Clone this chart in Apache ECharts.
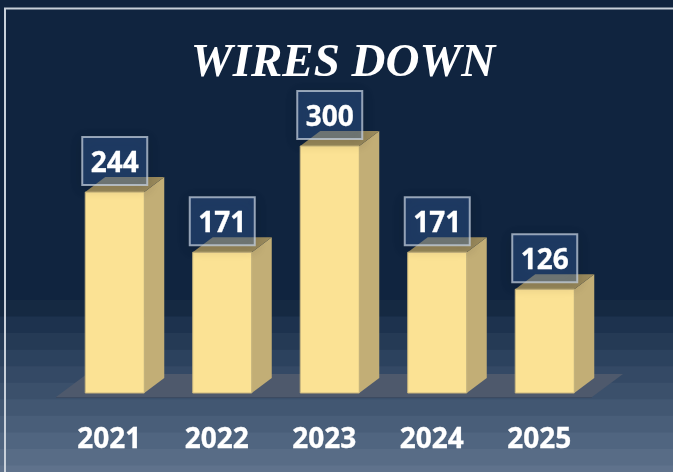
<!DOCTYPE html>
<html>
<head>
<meta charset="utf-8">
<style>html,body{margin:0;padding:0;background:#10243f}#chart{width:673px;height:472px}</style>
<script src="https://cdn.jsdelivr.net/npm/echarts@6/dist/echarts.min.js"></script>
</head>
<body>
<div id="chart"></div>
<script>
var years = ['2021', '2022', '2023', '2024', '2025'];
var wiresDown = [244, 171, 300, 171, 126];

// background stripes, top to bottom
var bandColors = ['#152942', '#1d324e', '#253a55', '#2c425e', '#344965', '#3b506b', '#425772', '#495e79', '#506580', '#586c86', '#5f728c'];
var bandStart = 300, bandHeight = 16.55;

var depthX = 20, depthY = 15;

var bg = [{ type: 'rect', z: 0, shape: { x: 0, y: 0, width: 673, height: 472 }, style: { fill: '#10243f' } }];
bandColors.forEach(function (c, i) {
  bg.push({ type: 'rect', z: 0, shape: { x: 0, y: bandStart + i * bandHeight, width: 673, height: bandHeight + 1 }, style: { fill: c } });
});
// frame, runs off the right and bottom edge
bg.push({ type: 'rect', z: 1, shape: { x: 5, y: 8.5, width: 760, height: 560 }, style: { fill: 'none', stroke: '#c8d0da', lineWidth: 2 } });
// floor
bg.push({ type: 'polygon', z: 1, shape: { points: [[56, 397], [87, 374], [623, 374], [592, 397]] }, style: { fill: '#4e596c' } });
bg.push({ type: 'line', z: 1, shape: { x1: 56, y1: 397.5, x2: 592, y2: 397.5 }, style: { stroke: '#3c4a60', lineWidth: 1 } });

function renderBar(params, api) {
  var base = api.coord([api.value(0), 0]);
  var top = api.coord([api.value(0), api.value(1)]);
  var w = api.size([1, 0])[0] * 0.549;
  var l = base[0] - w / 2, r = base[0] + w / 2, y0 = base[1], y1 = top[1];
  var boxW = 65, boxH = 48, boxTop = y1 - 55;
  return {
    type: 'group',
    children: [
      { type: 'polygon', shape: { points: [[r, y0], [r + depthX, y0 - depthY], [r + depthX, y1 - depthY], [r, y1]] }, style: { fill: '#c2ae76' } },
      { type: 'polygon', shape: { points: [[l, y1], [l + depthX, y1 - depthY], [r + depthX, y1 - depthY], [r, y1]] }, style: { fill: '#9a8a5c' } },
      { type: 'rect', shape: { x: l, y: y1, width: w, height: y0 - y1 }, style: { fill: '#fbe294', stroke: '#c9b67e', lineWidth: 1 } },
      { type: 'rect', shape: { x: base[0] - boxW / 2, y: boxTop, width: boxW, height: boxH },
        style: { fill: 'rgba(60,105,175,0.36)', stroke: 'rgba(200,210,225,0.72)', lineWidth: 2, shadowBlur: 12, shadowColor: 'rgba(0,0,0,0.3)', shadowOffsetY: 3 } },
      { type: 'text', style: { text: String(api.value(1)), x: base[0], y: boxTop + boxH / 2 + 3, align: 'center', verticalAlign: 'middle', fill: '#fff', stroke: '#fff', lineWidth: 0.3, font: 'bold 28px "Open Sans"' } }
    ]
  };
}

var option = {
  animation: false,
  title: {
    text: 'WIRES DOWN',
    left: 338,
    top: 35,
    textAlign: 'center',
    textStyle: { color: '#fff', fontFamily: 'Liberation Serif', fontStyle: 'italic', fontWeight: 'bold', fontSize: 47 }
  },
  graphic: bg,
  grid: { left: 61, top: 146, width: 537.5, height: 247 },
  xAxis: {
    type: 'category',
    data: years,
    axisLine: { show: false },
    axisTick: { show: false },
    axisLabel: { color: '#fff', fontFamily: 'Open Sans', fontWeight: 'bold', fontSize: 28, margin: 33, padding: [0, 11, 0, 0], textBorderColor: '#fff', textBorderWidth: 0.3 }
  },
  yAxis: { type: 'value', min: 0, max: 300, show: false },
  series: [{
    type: 'custom',
    renderItem: renderBar,
    data: wiresDown.map(function (v, i) { return [i, v]; }),
    encode: { x: 0, y: 1 },
    clip: false,
    z: 5
  }]
};

var myChart = echarts.init(document.getElementById('chart'));
myChart.setOption(option);
</script>
</body>
</html>
